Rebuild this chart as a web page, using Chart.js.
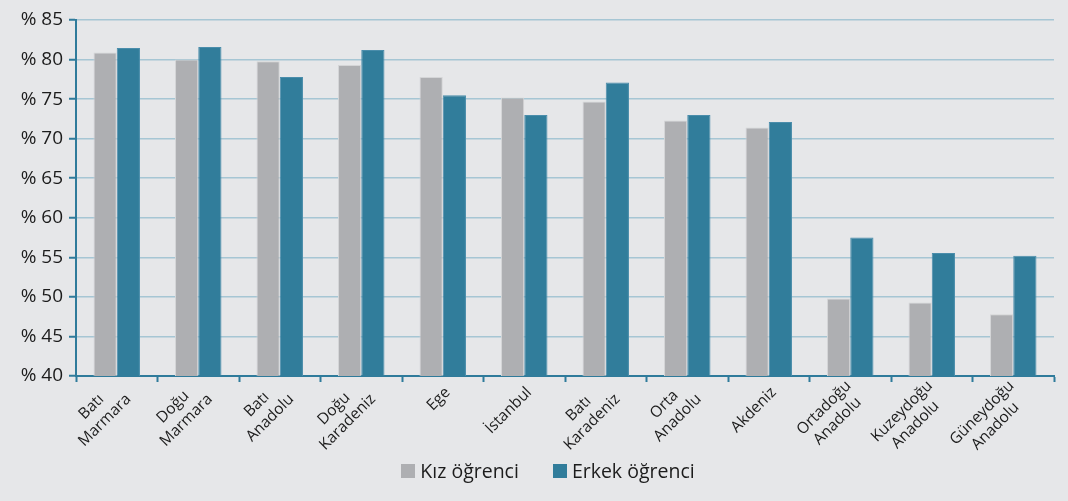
<!DOCTYPE html>
<html>
<head>
<meta charset="utf-8">
<script src="https://cdn.jsdelivr.net/npm/chart.js@4"></script>
<style>
  html, body { margin: 0; padding: 0; background: #e6e7e9; }
  #wrap { width: 1068px; height: 501px; position: relative; }
  #legend {
    position: absolute; left: 0; right: 0; top: 457px; padding-left: 28px;
    display: flex; justify-content: center; gap: 34px;
    font-family: "Open Sans", "Noto Sans", sans-serif; font-size: 19.5px; color: #1c1c1c;
  }
  #legend span.item { display: flex; align-items: center; }
  #legend span.box { display: inline-block; width: 14px; height: 14px; margin-right: 5px; }
</style>
</head>
<body>
<div id="wrap"><canvas id="chart"></canvas><div id="legend"></div></div>
<script>
const regions = [
  ['Batı', 'Marmara'],
  ['Doğu', 'Marmara'],
  ['Batı', 'Anadolu'],
  ['Doğu', 'Karadeniz'],
  'Ege',
  'İstanbul',
  ['Batı', 'Karadeniz'],
  ['Orta', 'Anadolu'],
  'Akdeniz',
  ['Ortadoğu', 'Anadolu'],
  ['Kuzeydoğu', 'Anadolu'],
  ['Güneydoğu', 'Anadolu'],
];

const girls = [80.9, 80.0, 79.8, 79.3, 77.8, 75.2, 74.7, 72.3, 71.4, 49.8, 49.3, 47.8];
const boys = [81.45, 81.6, 77.8, 81.2, 75.5, 73.0, 77.1, 73.0, 72.1, 57.5, 55.55, 55.2];

const axisBlue = '#2f7b9b';
const gridBlue = '#a6c6d4';
const textColor = '#1c1c1c';
const fontFamily = '"Open Sans", "Noto Sans", sans-serif';

// rotated category labels, lines centred on each other (like the original)
const centeredLabels = {
  id: 'centeredLabels',
  afterDraw(chart) {
    const scale = chart.scales.x;
    const c = chart.ctx;
    const lineHeight = 19;
    c.save();
    c.font = `15.5px ${fontFamily}`;
    c.fillStyle = textColor;
    c.textAlign = 'center';
    c.textBaseline = 'middle';
    chart.data.labels.forEach((label, i) => {
      const lines = Array.isArray(label) ? label : [label];
      const maxW = Math.max(...lines.map((l) => c.measureText(l).width));
      c.save();
      c.translate(scale.getPixelForTick(i) + 5, scale.top + 14);
      c.rotate(-Math.PI / 4);
      lines.forEach((line, j) => {
        c.fillText(line, -maxW / 2, (j - (lines.length - 1) / 2) * lineHeight);
      });
      c.restore();
    });
    c.restore();
  },
};

const ctx = document.getElementById('chart');
const chart = new Chart(ctx, {
  type: 'bar',
  data: {
    labels: regions,
    datasets: [
      {
        label: 'Kız öğrenci',
        data: girls,
        backgroundColor: '#aeafb2',
        borderColor: '#d4d5d7',
        borderWidth: 1,
        categoryPercentage: 0.57,
        barPercentage: 1,
      },
      {
        label: 'Erkek öğrenci',
        data: boys,
        backgroundColor: '#317d9b',
        borderColor: '#4a8dab',
        borderWidth: 1,
        categoryPercentage: 0.57,
        barPercentage: 1,
      },
    ],
  },
  options: {
    responsive: true,
    maintainAspectRatio: false,
    animation: false,
    layout: {
      padding: { left: 0, right: 14, top: 20, bottom: 45 },
    },
    plugins: {
      tooltip: { enabled: false },
      legend: { display: false },
    },
    scales: {
      x: {
        offset: true,
        afterFit(scale) {
          scale.height = 80;
        },
        border: { color: axisBlue, width: 2 },
        grid: {
          offset: true,
          drawOnChartArea: false,
          drawTicks: true,
          tickLength: 6,
          tickColor: axisBlue,
          tickWidth: 2,
        },
        ticks: {
          display: false,
          autoSkip: false,
        },
      },
      y: {
        min: 40,
        max: 85,
        afterFit(scale) {
          scale.width = 76;
        },
        border: { color: axisBlue, width: 2 },
        grid: {
          color: gridBlue,
          lineWidth: 1.5,
          tickLength: 7,
          tickColor: axisBlue,
          tickWidth: 2,
        },
        ticks: {
          stepSize: 5,
          color: textColor,
          font: { family: fontFamily, size: 19 },
          padding: 6,
          callback: (v) => '% ' + v,
        },
      },
    },
  },
  plugins: [centeredLabels],
});

const legendEl = document.getElementById('legend');
for (const ds of chart.data.datasets) {
  const item = document.createElement('span');
  item.className = 'item';
  item.innerHTML = `<span class="box" style="background:${ds.backgroundColor}"></span>${ds.label}`;
  legendEl.appendChild(item);
}
</script>
</body>
</html>
